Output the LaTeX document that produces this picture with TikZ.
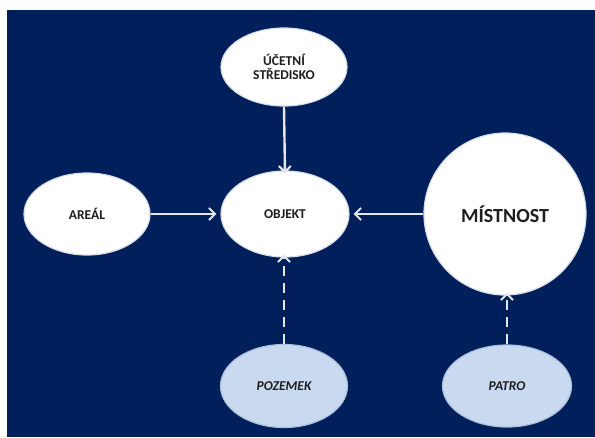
\documentclass[tikz,border=0pt]{standalone}
\usepackage{fontspec}
\setmainfont{Carlito}
\usetikzlibrary{shapes.geometric,arrows.meta}
\definecolor{navy}{HTML}{001F5B}
\definecolor{paleblue}{HTML}{C9DAF0}
\definecolor{linkgray}{HTML}{E4E6EA}
\definecolor{labelgray}{HTML}{1E1E1E}
\tikzset{
  bubble/.style={ellipse, fill=white, draw=white!85!navy, line width=1.2pt,
    inner sep=0pt, align=center, text=labelgray, font=\bfseries\fontsize{13.5}{15}\selectfont},
  subbubble/.style={bubble, fill=paleblue, draw=paleblue!85!navy,
    font=\bfseries\itshape\fontsize{13.5}{15}\selectfont},
  link/.style={draw=linkgray, line width=2.4pt,
    -{Straight Barb[length=6pt,width=12pt,line width=2pt]}},
  dashlink/.style={link, dash pattern=on 10pt off 7pt}
}
\begin{document}
\begin{tikzpicture}[x=1pt,y=-1pt]
  \useasboundingbox (0,0) rectangle (595,437);
  \fill[navy] (7,10) rectangle (595,437);

  \node[bubble, minimum width=126pt, minimum height=78pt] (ucet) at (284,67) {ÚČETNÍ\\[-1pt]STŘEDISKO};
  \node[bubble, minimum width=128pt, minimum height=86pt] (objekt) at (285,214) {OBJEKT};
  \node[bubble, minimum width=126pt, minimum height=82pt] (areal) at (87,214) {AREÁL};
  \node[bubble, circle, minimum size=162pt, font=\bfseries\fontsize{20}{24}\selectfont] (mistnost) at (505,214) {MÍSTNOST};
  \node[subbubble, minimum width=127pt, minimum height=83pt] (pozemek) at (284,386) {POZEMEK};
  \node[subbubble, minimum width=129pt, minimum height=82pt] (patro) at (507,386) {PATRO};

  \draw[link] (ucet.south) -- ([yshift=-3pt]objekt.north);
  \draw[link] (areal.east) -- ([xshift=-4pt]objekt.west);
  \draw[link] (mistnost.west) -- ([xshift=4pt]objekt.east);
  \draw[dashlink] (pozemek.north) -- ([yshift=3pt]pozemek.north |- objekt.south);
  \draw[dashlink] (patro.north) -- ([yshift=3pt]patro.north |- mistnost.south);
\end{tikzpicture}
\end{document}
